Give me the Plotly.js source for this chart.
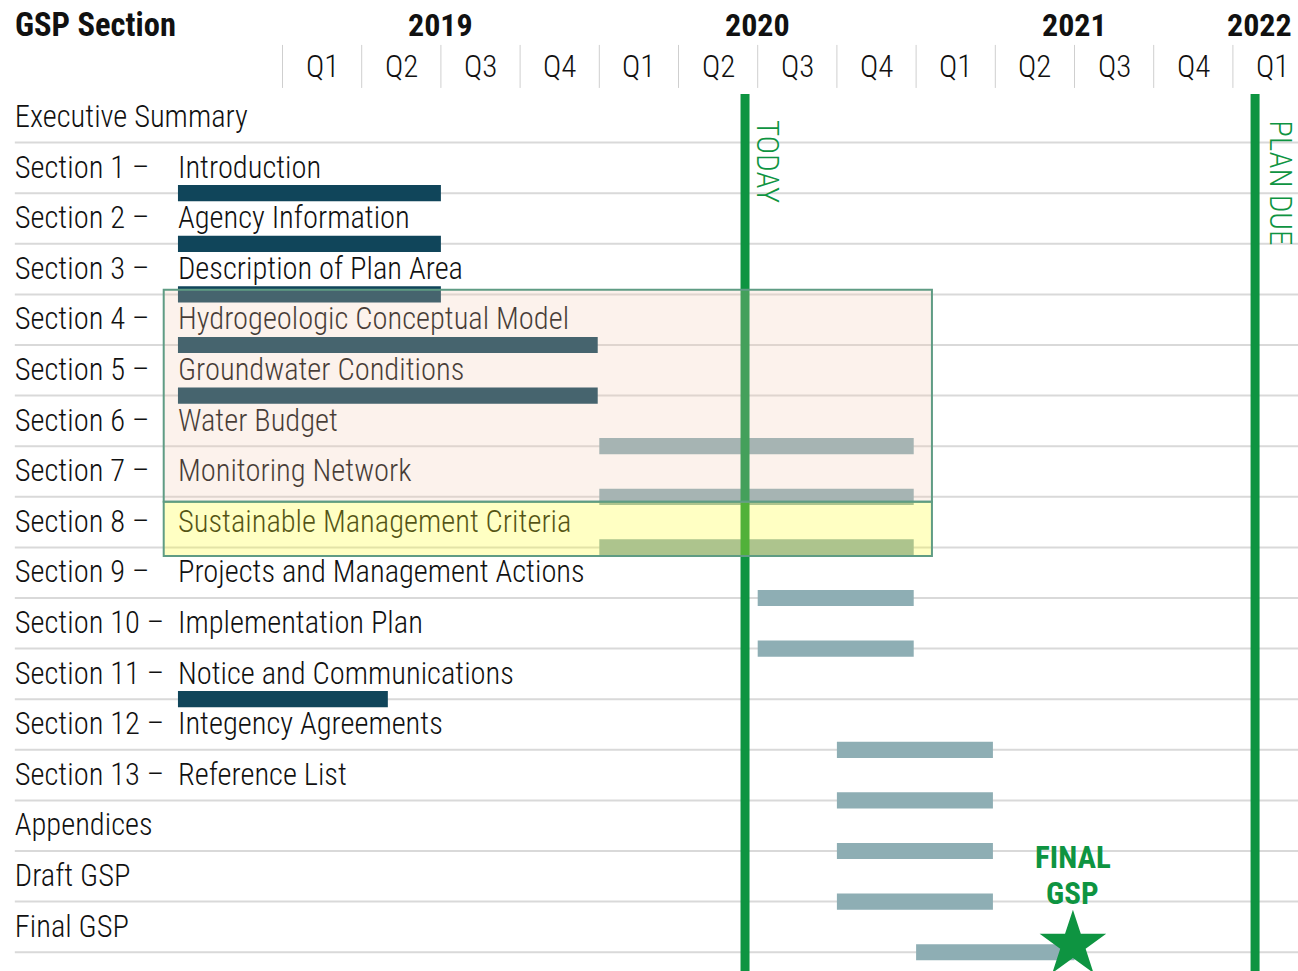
<!DOCTYPE html>
<html><head><meta charset="utf-8">
<script src="https://cdn.plot.ly/plotly-3.0.1.min.js"></script>
<style>html,body{margin:0;padding:0;background:#fff;overflow:hidden}#chart{width:1298px;height:971px}</style>
</head><body><div id="chart"></div>
<script>
// ---- data ----
const rowLabels = ["Executive Summary","Section 1 \u2013","Section 2 \u2013","Section 3 \u2013","Section 4 \u2013","Section 5 \u2013","Section 6 \u2013","Section 7 \u2013","Section 8 \u2013","Section 9 \u2013","Section 10 \u2013","Section 11 \u2013","Section 12 \u2013","Section 13 \u2013","Appendices","Draft GSP","Final GSP"];
const rowTitles = ["","Introduction","Agency Information","Description of Plan Area","Hydrogeologic Conceptual Model","Groundwater Conditions","Water Budget","Monitoring Network","Sustainable Management Criteria","Projects and Management Actions","Implementation Plan","Notice and Communications","Integency Agreements","Reference List","","",""];
// bar start / end in quarters since 2019 Q1 (0 = start of 2019 Q1)
const barStart = [null,-1.32,-1.32,-1.32,-1.32,-1.32,4,4,4,6,6,-1.32,7,7,7,7,8];
const barEnd   = [null, 2, 2, 2, 3.98, 3.98, 7.97, 7.97, 7.97, 7.97, 7.97, 1.33, 8.97, 8.97, 8.97, 8.97, 10];
const barStatus = ["","done","done","done","done","done","plan","plan","plan","plan","plan","done","plan","plan","plan","plan","plan"];
const quarterLabels = ["Q1","Q2","Q3","Q4","Q1","Q2","Q3","Q4","Q1","Q2","Q3","Q4","Q1"];
const yearLabels = ["2019","2020","2021","2022"];
const yearCenters = [2, 6, 10, 12.33];
const todayQ = 5.84;
const planDueQ = 12.28;
const finalGspQ = 9.98;

// ---- style ----
const FONT = "'Roboto Condensed','Roboto',sans-serif";
const GREEN = "#0e9441";
const DARK = "#10455a";
const LIGHT = "#8eaeb4";
const X0 = -3.567, X1 = 12.822;
const Y0 = -2.318, Y1 = 16.871;
const labelX = -3.38, titleX = -1.32;

const rows = rowLabels.map((_, i) => i);
const barIdx = rows.filter(i => barStart[i] !== null);

const traces = [];
['done','plan'].forEach(st => {
  const idx = barIdx.filter(i => barStatus[i] === st);
  traces.push({
    type: 'bar', orientation: 'h',
    y: idx.map(i => i + 0.5),
    base: idx.map(i => barStart[i]),
    x: idx.map(i => barEnd[i] - barStart[i]),
    width: 0.32,
    marker: {color: st === 'done' ? DARK : LIGHT, line: {width: 0}},
    hoverinfo: 'skip', showlegend: false
  });
});
traces.push({
  type: 'scatter', mode: 'text',
  x: rows.map(() => labelX), y: rows.map(i => i + 0.04),
  text: rowLabels, textposition: 'middle right',
  textfont: {family: FONT, size: 30.5, weight: 300, color: '#111'},
  hoverinfo: 'skip', showlegend: false, cliponaxis: false
});
traces.push({
  type: 'scatter', mode: 'text',
  x: rows.map(() => titleX), y: rows.map(i => i + 0.04),
  text: rowTitles, textposition: 'middle right',
  textfont: {family: FONT, size: 30.5, weight: 300, color: '#111'},
  hoverinfo: 'skip', showlegend: false, cliponaxis: false
});
traces.push({
  type: 'scatter', mode: 'markers',
  x: [finalGspQ], y: [16.35],
  marker: {symbol: 'star', size: 50, color: GREEN, line: {width: 0}},
  hoverinfo: 'skip', showlegend: false, cliponaxis: false
});

const shapes = [];
rows.forEach(i => shapes.push({type:'line', layer:'below', x0: labelX, x1: X1, y0: i+0.5, y1: i+0.5, line:{color:'#d9d9d9', width:2}}));
quarterLabels.forEach((_, q) => shapes.push({type:'line', layer:'below', x0:q, x1:q, y0:-1.43, y1:-0.58, line:{color:'#cfcfcf', width:1}}));
[todayQ, planDueQ].forEach(q => shapes.push({type:'line', layer:'above', x0:q, x1:q, y0:-0.46, y1:Y1+0.5, line:{color:GREEN, width:9}}));
shapes.push({type:'rect', layer:'above', x0:-1.5, x1:8.2, y0:3.41, y1:7.60, fillcolor:'rgba(242,200,175,0.24)', line:{color:'#5f9c84', width:2}});
shapes.push({type:'rect', layer:'above', x0:-1.5, x1:8.2, y0:7.60, y1:8.67, fillcolor:'rgba(255,255,40,0.28)', line:{color:'#5f9c84', width:2}});

const annotations = [];
annotations.push({x: labelX - 0.02, y: -1.82, xanchor:'left', yanchor:'middle', text:'<b>GSP Section</b>', showarrow:false, font:{family:FONT, size:32.5, color:'#111'}});
yearLabels.forEach((t, k) => annotations.push({x: yearCenters[k], y: -1.82, xanchor:'center', yanchor:'middle', text:'<b>'+t+'</b>', showarrow:false, font:{family:FONT, size:32, color:'#111'}}));
quarterLabels.forEach((t, q) => annotations.push({x: q+0.5, y: -1.0, xanchor:'center', yanchor:'middle', text:t, showarrow:false, font:{family:FONT, size:31, weight:300, color:'#111'}}));
annotations.push({x: todayQ+0.28, y: 0.87, text:'TODAY', textangle:90, showarrow:false, xanchor:'center', yanchor:'middle', font:{family:FONT, size:31, weight:300, color:GREEN}});
annotations.push({x: planDueQ+0.32, y: 1.29, text:'PLAN DUE', textangle:90, showarrow:false, xanchor:'center', yanchor:'middle', font:{family:FONT, size:31, weight:300, color:GREEN}});
annotations.push({x: finalGspQ, y: 14.62, text:'<b>FINAL</b>', showarrow:false, xanchor:'center', yanchor:'middle', font:{family:FONT, size:31, color:GREEN}});
annotations.push({x: finalGspQ, y: 15.33, text:'<b>GSP</b>', showarrow:false, xanchor:'center', yanchor:'middle', font:{family:FONT, size:31, color:GREEN}});

const layout = {
  width: 1298, height: 971,
  margin: {l:0, r:0, t:0, b:0},
  paper_bgcolor:'#fff', plot_bgcolor:'#fff',
  barmode: 'overlay',
  xaxis: {range:[X0, X1], visible:false, fixedrange:true},
  yaxis: {range:[Y1, Y0], visible:false, fixedrange:true},
  shapes, annotations, showlegend:false
};
Plotly.newPlot('chart', traces, layout, {staticPlot:true, displayModeBar:false});
</script></body></html>
